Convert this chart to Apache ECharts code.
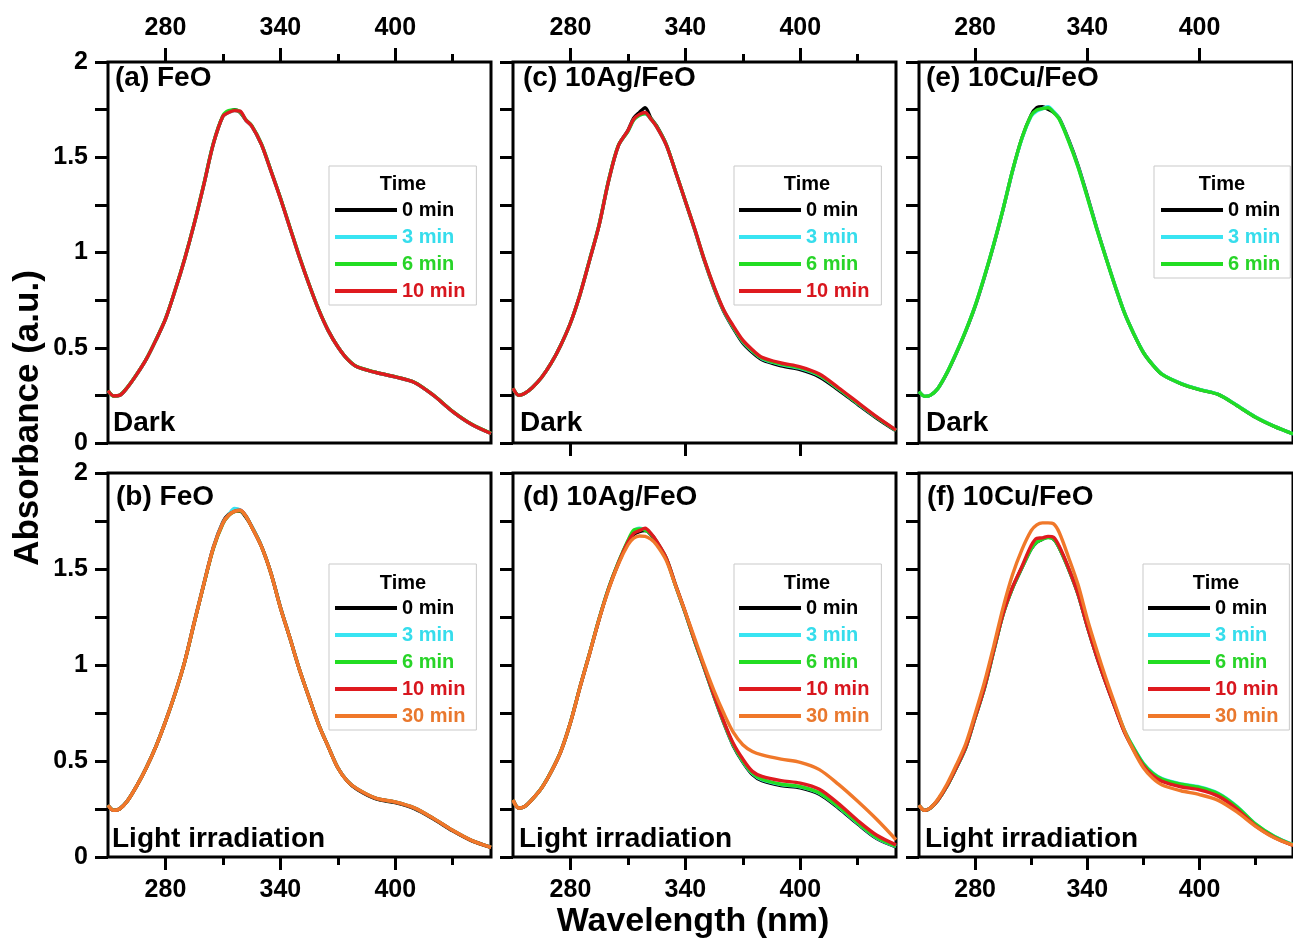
<!DOCTYPE html>
<html>
<head>
<meta charset="utf-8">
<script src="https://cdn.jsdelivr.net/npm/echarts@6/dist/echarts.min.js"></script>
<style>
html,body{margin:0;padding:0;background:#fff;}
#chart{width:1293px;height:945px;}
</style>
</head>
<body>
<div id="chart"></div>
<script>
// ---------------- DATA ----------------
const WL = [250,253,256,260,265,270,275,280,285,290,295,300,305,310,313,316,319,322,325,330,335,340,345,350,355,360,365,370,375,380,390,400,410,420,430,440,450];

const X_MAJOR = [280,340,400];
const X_MINOR = [310,370,430];
const Y_TICKS = [0,0.25,0.5,0.75,1,1.25,1.5,1.75,2];
const Y_LABELS = [0,0.5,1,1.5,2];

// (a) FeO, dark
const a_0  = [0.275,0.247,0.250,0.290,0.360,0.440,0.540,0.650,0.800,0.965,1.150,1.355,1.570,1.715,1.738,1.750,1.735,1.695,1.665,1.570,1.432,1.287,1.130,0.975,0.832,0.700,0.590,0.505,0.440,0.400,0.370,0.347,0.318,0.250,0.165,0.097,0.050];
const a_3  = [0.275,0.246,0.250,0.290,0.360,0.440,0.540,0.652,0.800,0.965,1.150,1.355,1.572,1.715,1.735,1.745,1.740,1.695,1.665,1.572,1.430,1.285,1.130,0.975,0.832,0.700,0.590,0.505,0.440,0.400,0.370,0.347,0.318,0.250,0.165,0.097,0.050];
const a_6  = [0.276,0.247,0.251,0.291,0.361,0.441,0.541,0.651,0.801,0.966,1.152,1.357,1.572,1.718,1.745,1.748,1.738,1.697,1.667,1.572,1.432,1.287,1.132,0.977,0.833,0.701,0.591,0.506,0.441,0.401,0.371,0.348,0.319,0.251,0.166,0.098,0.051];
const a_10 = [0.275,0.247,0.250,0.290,0.360,0.440,0.540,0.650,0.800,0.965,1.150,1.355,1.570,1.715,1.735,1.745,1.742,1.695,1.665,1.570,1.430,1.285,1.130,0.975,0.832,0.700,0.590,0.505,0.440,0.400,0.370,0.347,0.318,0.250,0.165,0.097,0.050];

// (b) FeO, light
const b_0  = [0.270,0.243,0.250,0.290,0.370,0.465,0.575,0.705,0.850,1.015,1.220,1.420,1.612,1.745,1.785,1.800,1.800,1.770,1.722,1.622,1.482,1.302,1.140,0.975,0.830,0.690,0.575,0.465,0.395,0.352,0.302,0.283,0.252,0.198,0.136,0.084,0.050];
const b_3  = [0.271,0.243,0.251,0.291,0.371,0.466,0.576,0.706,0.851,1.016,1.222,1.422,1.612,1.742,1.782,1.815,1.808,1.778,1.724,1.622,1.482,1.302,1.141,0.976,0.831,0.691,0.576,0.466,0.396,0.356,0.306,0.287,0.256,0.201,0.139,0.086,0.051];
const b_6  = [0.270,0.244,0.250,0.290,0.370,0.465,0.575,0.705,0.849,1.014,1.218,1.418,1.606,1.735,1.778,1.798,1.803,1.775,1.720,1.620,1.480,1.300,1.140,0.975,0.830,0.690,0.575,0.465,0.395,0.355,0.305,0.286,0.255,0.200,0.138,0.085,0.050];
const b_10 = [0.270,0.243,0.250,0.290,0.370,0.465,0.575,0.705,0.850,1.015,1.220,1.420,1.610,1.740,1.780,1.800,1.806,1.776,1.720,1.620,1.480,1.300,1.140,0.975,0.830,0.690,0.575,0.465,0.395,0.355,0.305,0.286,0.255,0.200,0.138,0.085,0.050];
const b_30 = [0.270,0.243,0.250,0.290,0.370,0.465,0.575,0.705,0.850,1.015,1.220,1.420,1.610,1.740,1.780,1.800,1.805,1.775,1.720,1.620,1.480,1.300,1.140,0.975,0.830,0.690,0.575,0.465,0.395,0.356,0.306,0.287,0.256,0.201,0.139,0.086,0.050];

// (c) 10Ag/FeO, dark
const c_0  = [0.287,0.250,0.260,0.290,0.345,0.420,0.515,0.630,0.780,0.960,1.145,1.380,1.560,1.640,1.705,1.735,1.760,1.705,1.665,1.568,1.420,1.268,1.115,0.955,0.812,0.692,0.603,0.525,0.475,0.437,0.405,0.385,0.347,0.278,0.203,0.130,0.064];
const c_3  = [0.287,0.250,0.260,0.290,0.345,0.420,0.515,0.630,0.780,0.962,1.148,1.382,1.560,1.636,1.695,1.720,1.728,1.700,1.660,1.565,1.420,1.270,1.118,0.958,0.816,0.696,0.608,0.532,0.482,0.443,0.412,0.392,0.354,0.284,0.208,0.134,0.066];
const c_6  = [0.287,0.250,0.260,0.290,0.345,0.420,0.515,0.630,0.780,0.962,1.148,1.382,1.562,1.636,1.695,1.720,1.730,1.702,1.662,1.567,1.421,1.271,1.119,0.959,0.817,0.697,0.610,0.534,0.484,0.445,0.414,0.394,0.356,0.286,0.209,0.134,0.066];
const c_10 = [0.287,0.250,0.260,0.290,0.345,0.420,0.515,0.630,0.780,0.960,1.145,1.380,1.560,1.640,1.700,1.725,1.735,1.700,1.660,1.565,1.420,1.270,1.120,0.960,0.820,0.700,0.615,0.540,0.490,0.450,0.420,0.400,0.362,0.290,0.213,0.137,0.068];

// (d) 10Ag/FeO, light
const d_0  = [0.297,0.255,0.262,0.300,0.360,0.445,0.550,0.700,0.885,1.060,1.240,1.400,1.530,1.640,1.680,1.695,1.700,1.680,1.640,1.555,1.410,1.270,1.120,0.980,0.835,0.700,0.580,0.495,0.430,0.398,0.372,0.360,0.327,0.255,0.172,0.096,0.053];
const d_3  = [0.297,0.255,0.262,0.300,0.361,0.446,0.551,0.701,0.886,1.062,1.242,1.402,1.532,1.645,1.695,1.712,1.705,1.684,1.644,1.557,1.412,1.272,1.122,0.982,0.838,0.703,0.584,0.499,0.435,0.403,0.377,0.365,0.332,0.260,0.176,0.099,0.055];
const d_6  = [0.297,0.255,0.262,0.300,0.361,0.446,0.551,0.701,0.886,1.062,1.242,1.402,1.534,1.648,1.702,1.708,1.702,1.682,1.642,1.557,1.412,1.272,1.122,0.982,0.839,0.704,0.586,0.501,0.437,0.405,0.379,0.367,0.334,0.262,0.178,0.101,0.056];
const d_10 = [0.297,0.255,0.262,0.300,0.360,0.445,0.550,0.700,0.885,1.060,1.240,1.400,1.530,1.640,1.685,1.700,1.712,1.685,1.645,1.558,1.415,1.275,1.125,0.985,0.842,0.708,0.592,0.510,0.446,0.420,0.398,0.385,0.353,0.278,0.190,0.113,0.063];
const d_30 = [0.297,0.255,0.262,0.300,0.360,0.445,0.550,0.700,0.885,1.060,1.240,1.395,1.525,1.625,1.660,1.672,1.670,1.655,1.625,1.545,1.410,1.275,1.135,0.995,0.865,0.750,0.650,0.585,0.550,0.532,0.510,0.493,0.455,0.378,0.290,0.195,0.090];

// (e) 10Cu/FeO, dark
const e_0  = [0.270,0.245,0.250,0.285,0.368,0.472,0.587,0.717,0.872,1.042,1.228,1.428,1.600,1.722,1.760,1.765,1.752,1.735,1.705,1.592,1.458,1.298,1.130,0.972,0.820,0.680,0.570,0.475,0.410,0.360,0.312,0.280,0.255,0.197,0.135,0.087,0.048];
const e_3  = [0.270,0.245,0.250,0.285,0.370,0.475,0.590,0.720,0.875,1.045,1.230,1.428,1.596,1.715,1.742,1.755,1.765,1.740,1.702,1.587,1.452,1.292,1.127,0.971,0.821,0.681,0.571,0.476,0.411,0.361,0.313,0.281,0.256,0.198,0.136,0.088,0.048];
const e_6  = [0.270,0.245,0.250,0.285,0.370,0.475,0.590,0.720,0.875,1.045,1.230,1.430,1.600,1.720,1.748,1.755,1.760,1.735,1.700,1.585,1.450,1.290,1.125,0.970,0.820,0.680,0.570,0.475,0.410,0.360,0.312,0.280,0.255,0.197,0.135,0.087,0.048];

// (f) 10Cu/FeO, light
const f_0  = [0.270,0.243,0.255,0.295,0.370,0.465,0.570,0.725,0.880,1.075,1.265,1.400,1.505,1.605,1.640,1.655,1.665,1.655,1.610,1.500,1.370,1.200,1.045,0.905,0.775,0.650,0.558,0.480,0.430,0.400,0.373,0.357,0.324,0.256,0.166,0.104,0.062];
const f_3  = [0.270,0.243,0.255,0.295,0.370,0.466,0.571,0.726,0.882,1.077,1.267,1.402,1.507,1.607,1.642,1.657,1.666,1.657,1.612,1.502,1.373,1.204,1.050,0.911,0.782,0.657,0.566,0.488,0.438,0.408,0.381,0.365,0.332,0.264,0.172,0.108,0.064];
const f_6  = [0.270,0.243,0.255,0.295,0.370,0.466,0.571,0.726,0.881,1.076,1.266,1.401,1.506,1.606,1.641,1.656,1.664,1.656,1.611,1.501,1.372,1.203,1.049,0.909,0.780,0.655,0.564,0.486,0.436,0.406,0.379,0.363,0.330,0.262,0.171,0.107,0.063];
const f_10 = [0.270,0.243,0.255,0.295,0.371,0.467,0.573,0.728,0.884,1.079,1.268,1.405,1.512,1.622,1.660,1.662,1.670,1.665,1.618,1.505,1.372,1.202,1.046,0.905,0.774,0.648,0.554,0.475,0.424,0.394,0.366,0.350,0.317,0.250,0.162,0.101,0.060];
const f_30 = [0.270,0.243,0.255,0.300,0.380,0.480,0.590,0.745,0.910,1.100,1.300,1.470,1.600,1.700,1.730,1.740,1.740,1.735,1.690,1.560,1.420,1.240,1.080,0.930,0.790,0.655,0.550,0.465,0.410,0.375,0.345,0.325,0.295,0.235,0.160,0.100,0.062];

const SERIES_NAMES = ['0 min','3 min','6 min','10 min','30 min'];
const PANEL_TITLES = ['(a) FeO','(b) FeO','(c) 10Ag/FeO','(d) 10Ag/FeO','(e) 10Cu/FeO','(f) 10Cu/FeO'];
const CONDITIONS = ['Dark','Light irradiation'];
const LEGEND_TITLE = 'Time';
const X_TITLE = 'Wavelength (nm)';
const Y_TITLE = 'Absorbance (a.u.)';

// ---------------- STYLE / LAYOUT ----------------
const FONT = '"Liberation Sans", Arial, Helvetica, sans-serif';
const LINE_COLORS = {'0 min':'#000000','3 min':'#38E4F2','6 min':'#22DD22','10 min':'#DF1A1F','30 min':'#F0782A'};
const TEXT_COLORS = {'0 min':'#000000','3 min':'#36DDEC','6 min':'#28D428','10 min':'#D8161E','30 min':'#E9782E'};

const panels = [
  {title:0, cond:0, data:[a_0,a_3,a_6,a_10], box:[108,62,383,381], topMajor:true, topMinor:true, botMajor:false, botMinor:false, botLabels:false, yLabels:true,
   titlePos:[115,78], condPos:[113,423], legend:{left:329, top:166, pad:[34,11,4,6]}, timePos:[403,184]},
  {title:1, cond:1, data:[b_0,b_3,b_6,b_10,b_30], box:[108,473,383,384], topMajor:false, topMinor:false, botMajor:true, botMinor:true, botLabels:true, yLabels:true,
   titlePos:[116,497], condPos:[112,839], legend:{left:329, top:564, pad:[34,11,4,6]}, timePos:[403,583]},
  {title:2, cond:0, data:[c_0,c_3,c_6,c_10], box:[513,62,383,381], topMajor:true, topMinor:true, botMajor:true, botMinor:false, botLabels:false, yLabels:false,
   titlePos:[523,78], condPos:[520,423], legend:{left:734, top:166, pad:[34,12,4,5]}, timePos:[807,184]},
  {title:3, cond:1, data:[d_0,d_3,d_6,d_10,d_30], box:[513,473,383,384], topMajor:false, topMinor:false, botMajor:true, botMinor:true, botLabels:true, yLabels:false,
   titlePos:[523,497], condPos:[519,839], legend:{left:734, top:564, pad:[34,12,4,5]}, timePos:[807,583]},
  {title:4, cond:0, data:[e_0,e_3,e_6], box:[919,62,381,381], topMajor:true, topMinor:false, botMajor:false, botMinor:false, botLabels:false, yLabels:false,
   titlePos:[926,78], condPos:[926,423], legend:{left:1154, top:166, pad:[34,10,4,7]}, timePos:[1222,184]},
  {title:5, cond:1, data:[f_0,f_3,f_6,f_10,f_30], box:[919,473,381,384], topMajor:false, topMinor:false, botMajor:true, botMinor:true, botLabels:true, yLabels:false,
   titlePos:[927,497], condPos:[925,839], legend:{left:1143, top:564, pad:[34,11,4,5]}, timePos:[1216,583]}
];

const tickFont = {fontFamily:FONT, fontWeight:'bold', fontSize:25, color:'#000'};
const tickLine = {color:'#000', width:3};

const grids=[], xAxes=[], yAxes=[], series=[], legends=[], graphics=[];

function xAxis(gi, pos, ticks, len, showLabel, margin) {
  return {
    gridIndex:gi, type:'value', min:250, max:450, position:pos,
    axisLine:{show:false, onZero:false},
    splitLine:{show:false},
    axisTick:{show: len > 0, customValues:ticks, length:len, inside:false, lineStyle:tickLine},
    axisLabel:Object.assign({show:showLabel, customValues:ticks, margin:margin, formatter:v=>String(v)}, tickFont)
  };
}

panels.forEach((p, i) => {
  grids.push({left:p.box[0], top:p.box[1], width:p.box[2], height:p.box[3], show:true,
    borderColor:'#000', borderWidth:3, backgroundColor:'rgba(0,0,0,0)'});
  const mainIdx = xAxes.length;
  xAxes.push(xAxis(i, 'bottom', X_MAJOR, p.botMajor ? 13 : 0, p.botLabels, 21));
  if (p.botMinor) xAxes.push(xAxis(i, 'bottom', X_MINOR, 8, false, 21));
  if (p.topMajor) xAxes.push(xAxis(i, 'top', X_MAJOR, 14, true, 21));
  if (p.topMinor) xAxes.push(xAxis(i, 'top', X_MINOR, 8, false, 21));
  yAxes.push({
    gridIndex:i, type:'value', min:0, max:2, position:'left',
    axisLine:{show:false, onZero:false}, splitLine:{show:false},
    axisTick:{show:true, customValues:Y_TICKS, length:13, lineStyle:tickLine},
    axisLabel:Object.assign({show:p.yLabels, customValues:Y_LABELS, margin:20, formatter:v=>String(v)}, tickFont)
  });
  const names = SERIES_NAMES.slice(0, p.data.length);
  p.data.forEach((arr, k) => {
    const nm = names[k];
    series.push({
      type:'line', name:nm, xAxisIndex:mainIdx, yAxisIndex:i,
      data: WL.map((w, j) => [w, arr[j]]),
      showSymbol:false, symbol:'none', smooth:0.3, clip:true,
      color:LINE_COLORS[nm],
      lineStyle:{width:3.4, color:LINE_COLORS[nm]},
      emphasis:{disabled:true}, z:2+k
    });
  });
  legends.push({
    orient:'vertical', left:p.legend.left, top:p.legend.top, padding:p.legend.pad,
    itemWidth:62, itemHeight:4, itemGap:7, icon:'rect', selectedMode:false,
    borderColor:'#c9c9c9', borderWidth:1, backgroundColor:'#fff',
    itemStyle:{borderWidth:0},
    textStyle:{fontFamily:FONT, fontWeight:'bold', fontSize:20, color:'#000'},
    data: names.map(n => ({name:n, textStyle:{color:TEXT_COLORS[n], fontFamily:FONT, fontWeight:'bold', fontSize:20}}))
  });
  graphics.push({type:'text', x:p.timePos[0], y:p.timePos[1], z:100,
    style:{text:LEGEND_TITLE, fontFamily:FONT, fontWeight:'bold', fontSize:20, fill:'#000', align:'center', verticalAlign:'middle'}});
  graphics.push({type:'text', x:p.titlePos[0], y:p.titlePos[1], z:100,
    style:{text:PANEL_TITLES[p.title], fontFamily:FONT, fontWeight:'bold', fontSize:28, fill:'#000', align:'left', verticalAlign:'middle'}});
  graphics.push({type:'text', x:p.condPos[0], y:p.condPos[1], z:100,
    style:{text:CONDITIONS[p.cond], fontFamily:FONT, fontWeight:'bold', fontSize:28, fill:'#000', align:'left', verticalAlign:'middle'}});
});

graphics.push({type:'text', x:693, y:922, z:100,
  style:{text:X_TITLE, fontFamily:FONT, fontWeight:'bold', fontSize:34, fill:'#000', align:'center', verticalAlign:'middle'}});
graphics.push({type:'text', x:28, y:418, rotation:Math.PI/2, z:100,
  style:{text:Y_TITLE, fontFamily:FONT, fontWeight:'bold', fontSize:35, fill:'#000', align:'center', verticalAlign:'middle'}});

const chart = echarts.init(document.getElementById('chart'), null, {renderer:'canvas', width:1293, height:945});
chart.setOption({
  animation:false,
  backgroundColor:'#fff',
  grid:grids, xAxis:xAxes, yAxis:yAxes, series:series, legend:legends, graphic:graphics
});
</script>
</body>
</html>
